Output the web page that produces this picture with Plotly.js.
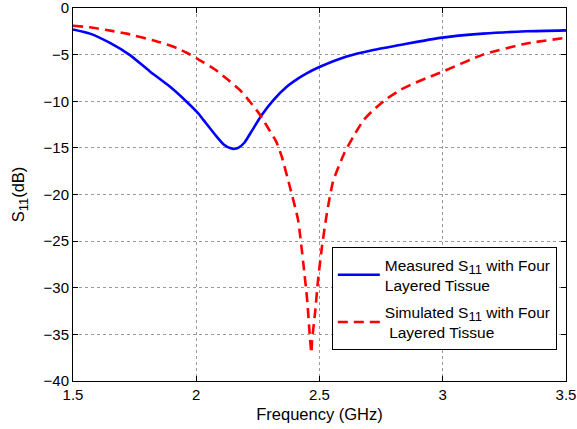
<!DOCTYPE html>
<html>
<head>
<meta charset="utf-8">
<script src="https://cdn.plot.ly/plotly-3.0.1.min.js"></script>
<style>html,body{margin:0;padding:0;background:#fff;}#chart{width:577px;height:429px;}</style>
</head>
<body>
<div id="chart"></div>
<script>
const measuredFreq = [1.5,1.569,1.65,1.731,1.812,1.894,1.961,2.008,2.029,2.083,2.11,2.14,2.155,2.17,2.195,2.225,2.265,2.313,2.367,2.414,2.448,2.502,2.61,2.718,2.827,2.989,3.163,3.34,3.5];
const measuredS11 = [-2.3,-2.75,-3.75,-5.05,-6.8,-8.45,-10.05,-11.3,-12.0,-13.8,-14.6,-15.05,-15.1,-15.0,-14.45,-13.2,-11.5,-9.87,-8.44,-7.54,-7.0,-6.3,-5.2,-4.5,-3.97,-3.2,-2.75,-2.5,-2.4];
const simFreq = [1.5,1.569,1.637,1.718,1.853,1.921,1.961,2.008,2.076,2.13,2.177,2.218,2.259,2.292,2.324,2.347,2.38,2.413,2.434,2.45,2.46,2.467,2.47,2.482,2.494,2.51,2.53,2.555,2.6,2.637,2.678,2.718,2.772,2.827,2.881,2.935,2.989,3.163,3.34,3.5];
const simS11 = [-1.9,-2.07,-2.36,-2.75,-3.68,-4.3,-4.8,-5.5,-6.6,-7.72,-8.79,-10.05,-11.47,-12.9,-14.3,-15.95,-19.2,-22.7,-27.3,-31.3,-34.9,-37,-35.6,-32.7,-29.2,-25.6,-22,-18.6,-15.6,-13.8,-12.05,-10.95,-9.75,-8.8,-8.1,-7.5,-6.95,-5.0,-3.8,-3.2];
const xTicks = [1.5,2,2.5,3,3.5];
const yTicks = [0,-5,-10,-15,-20,-25,-30,-35,-40];

const font = {family: 'Liberation Sans, Arial, sans-serif', color: '#000'};
const sub11 = '<sub><span style="font-size:13px">11</span></sub>';
const traces = [
  {x: measuredFreq, y: measuredS11, type: 'scatter', mode: 'lines', legendgroup: 'a',
   name: 'Measured S' + sub11 + ' with Four<br>Layered Tissue',
   line: {color: '#0000ff', width: 2.6, shape: 'spline', smoothing: 0.6}},
  {x: simFreq, y: simS11, type: 'scatter', mode: 'lines', legendgroup: 'b',
   name: 'Simulated S' + sub11 + ' with Four<br> Layered Tissue',
   line: {color: '#ff0000', width: 2.6, dash: '10px,6px', shape: 'spline', smoothing: 0.5}}
];
const axisCommon = {
  showline: true, linecolor: '#000', linewidth: 1, mirror: 'allticks',
  ticks: 'inside', ticklen: 5, tickcolor: '#000',
  showgrid: true, gridcolor: '#9a9a9a', griddash: 'dot', gridwidth: 1,
  zeroline: false, tickfont: Object.assign({size: 15}, font),
  ticklabeloverflow: 'allow'
};
const layout = {
  width: 577, height: 429,
  margin: {l: 73, r: 11, t: 8, b: 48},
  paper_bgcolor: '#fff', plot_bgcolor: '#fff',
  font: font,
  xaxis: Object.assign({}, axisCommon, {
    range: [1.5, 3.5], tickvals: xTicks, ticktext: xTicks.map(String),
    title: {text: 'Frequency (GHz)', font: Object.assign({size: 16.5}, font), standoff: 6}
  }),
  yaxis: Object.assign({}, axisCommon, {
    range: [-40, 0.0001], tickvals: yTicks, ticktext: yTicks.map(v => v === 0 ? '0' : '\u2212' + Math.abs(v)),
    title: {text: 'S' + sub11 + '(dB)', font: Object.assign({size: 16.5}, font), standoff: 14}
  }),
  showlegend: true,
  legend: {
    x: 0.525, y: 0.359, xanchor: 'left', yanchor: 'top',
    bgcolor: '#fff', bordercolor: '#000', borderwidth: 1,
    tracegroupgap: 4, traceorder: 'grouped', itemwidth: 42,
    font: Object.assign({size: 15.5}, font)
  }
};
Plotly.newPlot('chart', traces, layout, {displayModeBar: false, staticPlot: true});
</script>
</body>
</html>
